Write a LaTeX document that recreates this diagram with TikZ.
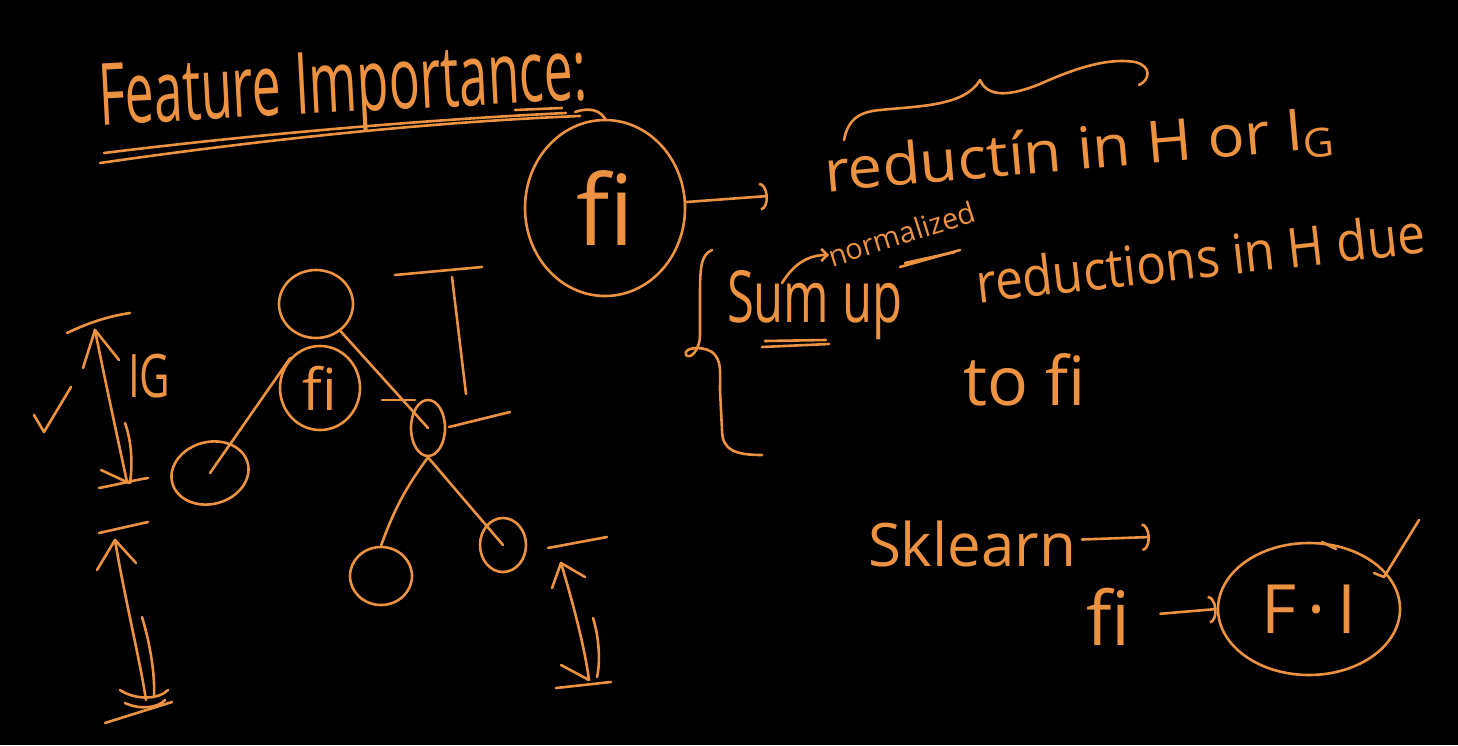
\documentclass[tikz,border=0pt]{standalone}
\usepackage{fontspec}
\usepackage{graphicx}
\setmainfont{Open Sans}[Ligatures=NoCommon]
\usetikzlibrary{arrows.meta,shapes.geometric}
\definecolor{chalk}{RGB}{236,146,64}
\newcommand{\fs}[1]{\fontsize{#1}{#1}\selectfont}
\begin{document}
\begin{tikzpicture}[x=1pt,y=-1pt,
  pen/.style={draw=chalk,line width=2.6pt,line cap=round,line join=round},
  hooktip/.style={-{Arc Barb[length=8pt,width=28pt]}},
  smalltip/.style={-{Straight Barb[length=6pt,width=12pt]}},
  txt/.style={text=chalk,inner sep=0pt,outer sep=0pt},
  tnode/.style={pen,ellipse,inner sep=0pt,text=chalk}]
\useasboundingbox (0,0) rectangle (1458,745);
\fill[black] (0,0) rectangle (1458,745);

% title
\node[txt,anchor=base west,rotate=3,font=\fs{86}] (title) at (100,125) {\scalebox{0.6}[1]{Feature Importance:}};
\draw[pen] (104,153) .. controls (250,135) and (420,120) .. (566,113);
\draw[pen] (100,163) .. controls (260,140) and (430,122) .. (580,116);
\draw[pen] (515,110) -- (562,108);
\draw[pen] (575,112) .. controls (590,107) and (600,110) .. (606,120);

% big fi circle
\node[tnode,minimum width=160pt,minimum height=176pt,font=\fs{98}] (bigfi) at (605,208) {fi};
\coordinate (redend) at (768,196);
\draw[pen,hooktip] (bigfi) -- (redend);

% line 1
\node[txt,anchor=base west,rotate=5,font=\fs{58}] (l1) at (826,192) {\scalebox{1.06}[1]{reductín in H or I\raisebox{-8pt}{\fs{40}G}}};
\draw[pen] (844,140) .. controls (848,120) and (858,112) .. (880,110)
  .. controls (920,106) and (965,106) .. (980,80)
  .. controls (988,98) and (1010,96) .. (1040,84)
  .. controls (1080,66) and (1110,58) .. (1135,62)
  .. controls (1152,66) and (1150,80) .. (1139,85);

% left brace
\draw[pen] (712,250) .. controls (700,255) and (700,270) .. (700,300) -- (700,335)
  .. controls (700,350) and (690,360) .. (686,355)
  .. controls (683,348) and (700,345) .. (712,352)
  .. controls (722,360) and (720,372) .. (720,390) -- (722,430)
  .. controls (722,450) and (735,455) .. (762,455);

% sum up normalized
\node[txt,anchor=base west,font=\fs{72}] (sum) at (727,322) {\scalebox{0.68}[1]{Sum up}};
\draw[pen] (762,347) -- (829,344);
\draw[pen] (765,341) -- (826,340);
\draw[pen,smalltip] (782,283) .. controls (795,262) and (810,255) .. (829,255);
\node[txt,anchor=base west,rotate=17.5,font=\fs{29}] (norm) at (832,267) {normalized};
\draw[pen] (900,267) -- (960,250);
\draw[pen] (905,263) -- (955,252);

% line 2
\node[txt,anchor=base west,rotate=6.4,font=\fs{55}] (l2) at (978,303) {\scalebox{0.9}[1]{reductions in H due}};
\node[txt,anchor=base west,font=\fs{68}] (tofi) at (963,405) {to fi};

% sklearn
\node[txt,anchor=base west,font=\fs{60}] (sk) at (868,566) {Sklearn};
\coordinate (skend) at (1150,537);
\draw[pen,hooktip,shorten <=6pt] (sk) -- (skend);
\node[txt,anchor=base west,font=\fs{75}] (fis) at (1086,645) {fi};
\node[tnode,minimum width=182pt,minimum height=132pt,font=\fs{68}] (FI) at (1309,609) {F\,·\,I};
\draw[pen,hooktip,shorten <=30pt] (fis.east) -- (FI.west);
\draw[pen] (1374,573) -- (1384,577) -- (1419,520);
\draw[pen] (1322,542) -- (1336,549);

% tree
\node[tnode,minimum width=74pt,minimum height=68pt] (root) at (316,304) {};
\node[tnode,minimum width=80pt,minimum height=84pt,font=\fs{58}] (fi) at (320,388) {fi};
\node[tnode,minimum width=78pt,minimum height=62pt,rotate=15] (left) at (210,473) {};
\node[tnode,minimum width=34pt,minimum height=56pt] (rn) at (428,428) {};
\node[tnode,minimum width=62pt,minimum height=58pt] (ll) at (381,576) {};
\node[tnode,minimum width=46pt,minimum height=54pt] (lr) at (503,545) {};
\draw[pen] (fi.135) -- (left.center);
\draw[pen] (root) -- (rn.center);
\draw[pen] (rn.south) to[bend right=8] (ll.north);
\draw[pen] (rn.south) -- (lr.center);
\draw[pen] (382,400) -- (415,400);
\draw[pen] (449,427) -- (510,412);
\draw[pen] (395,275) -- (482,267);
\draw[pen] (452,277) -- (466,394);

% left measuring arrows
\node[txt,anchor=base west,font=\fs{60}] (ig) at (128,397) {\scalebox{0.7}[1]{IG}};
\draw[pen] (34,415) -- (44,432) -- (71,387);
\draw[pen] (67,333) .. controls (90,322) and (110,316) .. (130,313);
\draw[pen] (83,368) -- (95,330) -- (119,360);
\draw[pen] (95,330) .. controls (105,380) and (118,440) .. (127,482);
\draw[pen] (125,423) .. controls (133,445) and (132,470) .. (130,483);
\draw[pen] (101,470) -- (129,483);
\draw[pen] (99,488) .. controls (120,484) and (135,480) .. (148,478);

\draw[pen] (99,533) -- (148,522);
\draw[pen] (97,570) -- (115,540) -- (136,563);
\draw[pen] (115,540) .. controls (125,600) and (140,660) .. (146,700);
\draw[pen] (142,617) .. controls (152,650) and (155,680) .. (154,697);
\draw[pen] (120,690) .. controls (135,700) and (158,700) .. (168,690);
\draw[pen] (125,703) .. controls (140,710) and (158,708) .. (165,700);
\draw[pen] (105,723) -- (172,702);

\draw[pen] (548,548) -- (607,537);
\draw[pen] (552,588) -- (561,563) -- (585,577);
\draw[pen] (561,563) .. controls (575,610) and (585,650) .. (589,680);
\draw[pen] (593,618) .. controls (600,640) and (600,665) .. (597,677);
\draw[pen] (561,665) -- (589,680);
\draw[pen] (556,688) -- (611,682);
\end{tikzpicture}
\end{document}
